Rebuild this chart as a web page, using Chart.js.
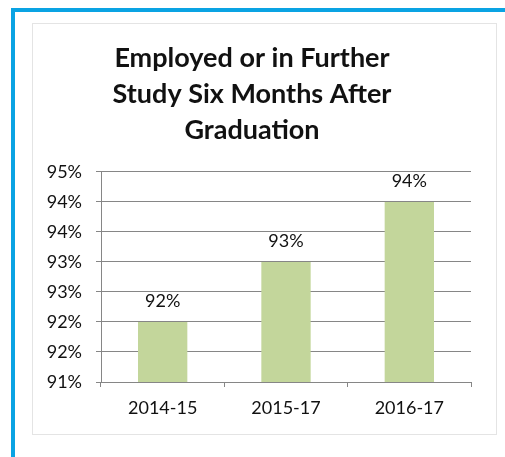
<!DOCTYPE html>
<html>
<head>
<meta charset="utf-8">
<script src="https://cdn.jsdelivr.net/npm/chart.js@4"></script>
<style>
  html, body { margin: 0; padding: 0; background: #fff; }
  #frame {
    position: absolute; left: 11px; top: 8px; width: 500px; height: 460px;
    border-top: 4px solid #0aa3e3; border-left: 4px solid #0aa3e3;
  }
  #box {
    position: absolute; left: 32px; top: 23px; width: 463px; height: 410px;
    border: 1px solid #e4e4e4; background: #fff;
  }
  canvas { display: block; }
</style>
</head>
<body>
<div id="frame"></div>
<div id="box"><canvas id="jobChart" width="463" height="410"></canvas></div>
<script>
// dữ liệu
const categories = ['2014-15', '2015-17', '2016-17'];
const employedPct = [92, 93, 94];
const titleLines = ['Employed or in Further', 'Study Six Months After', 'Graduation'];
const yMin = 91, yMax = 94.5, yStep = 0.5;

const FONT = 'Lato, "Open Sans", sans-serif';

// nhãn giá trị trên cột
const valueLabels = {
    id: 'valueLabels',
    afterDatasetsDraw(chart) {
        const c = chart.ctx;
        const meta = chart.getDatasetMeta(0);
        c.save();
        c.font = '18px ' + FONT;
        c.fillStyle = '#111';
        c.textAlign = 'center';
        c.textBaseline = 'middle';
        meta.data.forEach((bar, i) => {
            c.fillText(Math.round(employedPct[i]) + '%', bar.x, bar.y - 21);
        });
        c.restore();
    }
};

const ctx = document.getElementById('jobChart').getContext('2d');
new Chart(ctx, {
    type: 'bar',
    data: {
        labels: categories,
        datasets: [{
            data: employedPct,
            backgroundColor: '#c3d69b',
            borderWidth: 0,
            barPercentage: 0.4,
            categoryPercentage: 1
        }]
    },
    options: {
        responsive: false,
        animation: false,
        layout: { padding: { left: 0, right: 25, top: 0, bottom: 0 } },
        plugins: {
            legend: { display: false },
            tooltip: { enabled: false },
            title: {
                display: true,
                text: titleLines,
                color: '#111',
                font: { family: FONT, size: 27, weight: 'bold', lineHeight: 1.333 },
                padding: { top: 16, bottom: 24 }
            }
        },
        scales: {
            x: {
                afterFit(scale) { scale.height = 52; },
                grid: { drawOnChartArea: false, drawTicks: true, tickLength: 5, color: '#868686' },
                border: { color: '#868686' },
                ticks: { color: '#111', font: { family: FONT, size: 18 }, padding: 10 }
            },
            y: {
                min: yMin,
                max: yMax,
                afterFit(scale) { scale.width = 68; },
                grid: { color: '#868686', tickLength: 5 },
                border: { color: '#868686' },
                ticks: {
                    stepSize: yStep,
                    color: '#111',
                    font: { family: FONT, size: 18 },
                    padding: 14,
                    callback: v => Math.round(v) + '%'
                }
            }
        }
    },
    plugins: [valueLabels]
});
</script>
</body>
</html>
